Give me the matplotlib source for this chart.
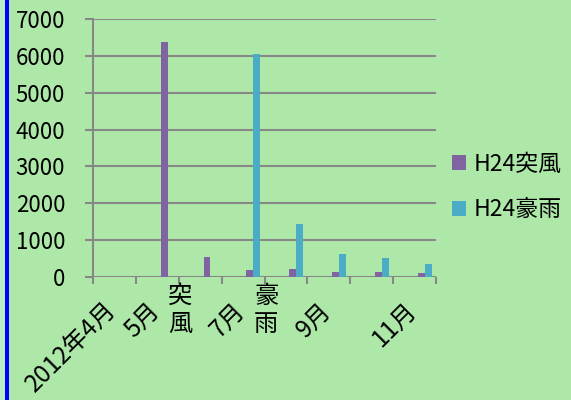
import matplotlib
matplotlib.use("Agg")
import matplotlib.pyplot as plt
import matplotlib.transforms as mtransforms
from matplotlib.patches import Rectangle, Patch
import numpy as np

plt.rcParams['font.family'] = ['Noto Sans CJK JP', 'DejaVu Sans']

# Monthly counts, April–November 2012
months = ["2012年4月", "5月", "6月", "7月", "8月", "9月", "10月", "11月"]
tick_labels = ["2012年4月", "5月", "", "7月", "", "9月", "", "11月"]
gust = [0, 6380, 525, 180, 215, 120, 135, 90]
rain = [0, 0, 0, 6060, 1430, 625, 510, 345]
series_names = ["H24突風", "H24豪雨"]
event_labels = ["突\n風", "豪\n雨"]
event_pos = [1.5, 3.5]
yticks = [0, 1000, 2000, 3000, 4000, 5000, 6000, 7000]

BG = "#aee8a9"
GRID = "#878787"
PURPLE = "#8064a2"
CYAN = "#4bacc6"

fig = plt.figure(figsize=(5.71, 4.0), dpi=100, facecolor=BG)
# left frame strip
fig.patches.append(Rectangle((0, 0), 5 / 571, 1, transform=fig.transFigure,
                             facecolor="#b9efc6", edgecolor="none", zorder=0))
fig.patches.append(Rectangle((5 / 571, 0), 4 / 571, 1, transform=fig.transFigure,
                             facecolor="#0000ff", edgecolor="none", zorder=1))

ax = fig.add_axes([93 / 571, 1 - 276.7 / 400, (436 - 93) / 571, (276.7 - 19.3) / 400])
ax.set_facecolor("none")

x = np.arange(len(months))
w = 0.16
ax.bar(x + w, gust, width=w, color=PURPLE, zorder=3)
ax.bar(x + 2 * w, rain, width=w, color=CYAN, zorder=3)

ax.set_xlim(-0.5, len(months) - 0.5)
ax.set_ylim(0, 7000)
ax.set_yticks(yticks)
ax.set_yticklabels([str(v) for v in yticks], fontsize=16)
for v in yticks:
    ax.axhline(v, color=GRID, lw=1.5, zorder=1)

for s in ["top", "right", "bottom"]:
    ax.spines[s].set_visible(False)
ax.spines["left"].set_color(GRID)
ax.spines["left"].set_linewidth(1.5)
ax.tick_params(axis="y", length=6, width=1.5, color=GRID, pad=14)

# category boundaries as ticks, labels at centres
ax.set_xticks(np.arange(-0.5, len(months)), minor=False)
ax.set_xticklabels([])
ax.tick_params(axis="x", which="major", length=5, width=1.5, color=GRID, direction="out")
ax.set_xticks(x, minor=True)
ax.set_xticklabels(tick_labels, minor=True, fontsize=17.5, rotation=45,
                   ha="right", va="top", rotation_mode="anchor")
ax.tick_params(axis="x", which="minor", length=0, pad=15)
for lab in ax.get_xticklabels(minor=True):
    lab.set_transform(lab.get_transform() + mtransforms.ScaledTranslation(-11 / 100, 0, fig.dpi_scale_trans))

trans = mtransforms.blended_transform_factory(ax.transData, ax.transAxes)
for pos, lab in zip(event_pos, event_labels):
    ax.text(pos + 0.04, -0.025, lab, transform=trans, ha="center", va="top",
            fontsize=17.5, linespacing=1.1)

handles = [Patch(facecolor=PURPLE), Patch(facecolor=CYAN)]
fig.legend(handles, series_names, loc="center left", bbox_to_anchor=(441 / 571, 1 - 187 / 400),
           frameon=False, fontsize=16.5, handlelength=0.6, handleheight=0.6,
           handletextpad=0.33, labelspacing=1.0, borderpad=0)

fig.savefig("out.png", dpi=100, facecolor=BG)
